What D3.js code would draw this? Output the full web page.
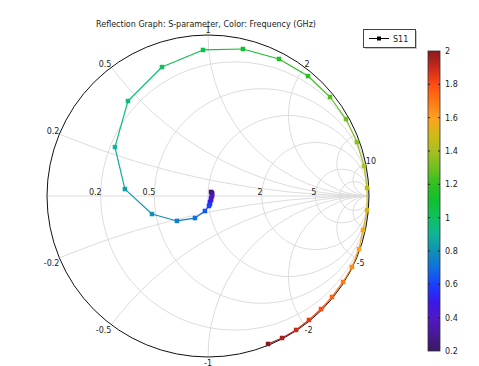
<!DOCTYPE html>
<html>
<head>
<meta charset="utf-8">
<script src="https://cdn.jsdelivr.net/npm/d3@7"></script>
<style>
  html, body { margin: 0; padding: 0; background: #fff; }
  svg { display: block; font-family: "DejaVu Sans", sans-serif; }
  .grid { fill: none; stroke: #dcdcdc; stroke-width: 1; }
  .lbl { font-size: 8px; fill: #222; }
</style>
</head>
<body>
<svg id="chart" width="479" height="366"></svg>
<script>
/* ─── Data ───────────────────────────────────────────────────────────────── */

// Frequency (GHz) of each sample
const freq = [0.2, 0.25, 0.3, 0.35, 0.4, 0.45, 0.5, 0.55, 0.6, 0.65, 0.7, 0.75, 0.8, 0.85,
  0.9, 0.95, 1.0, 1.05, 1.1, 1.15, 1.2, 1.25, 1.3, 1.35, 1.4, 1.45, 1.5, 1.55, 1.6, 1.65,
  1.7, 1.75, 1.8, 1.85, 1.9, 1.95, 2.0];

// S11 reflection coefficient, real and imaginary parts
const s11Re = [0.019, 0.025, 0.025, 0.025, 0.019, 0.019, 0.012, 0.012, 0.006, -0.019, -0.081,
  -0.193, -0.348, -0.516, -0.578, -0.497, -0.286, -0.031, 0.217, 0.441, 0.621, 0.758, 0.857,
  0.925, 0.969, 0.988, 0.988, 0.963, 0.938, 0.894, 0.839, 0.770, 0.702, 0.627, 0.547, 0.460, 0.373];
const s11Im = [0.025, 0.019, 0.012, 0.000, -0.012, -0.025, -0.037, -0.050, -0.062, -0.093, -0.137,
  -0.155, -0.112, 0.043, 0.304, 0.590, 0.801, 0.907, 0.913, 0.851, 0.745, 0.615, 0.478,
  0.335, 0.186, 0.050, -0.087, -0.211, -0.329, -0.441, -0.534, -0.627, -0.702, -0.770, -0.832, -0.882, -0.919];

// Smith chart grid
const resistances = [0.2, 0.5, 1, 2, 5, 10];
const reactances  = [0.2, 0.5, 1, 2, 5, 10];
const resLabels   = [0.2, 0.5, 2, 5];
const reactLabels = [0.2, 0.5, 1, 2, 10, -0.2, -0.5, -1, -2, -5];

// Colour bar
const cbTicks = [0.2, 0.4, 0.6, 0.8, 1, 1.2, 1.4, 1.6, 1.8, 2];
const rainbowStops  = [0.2, 0.3, 0.4, 0.5, 0.6, 0.7, 0.8, 0.9, 1.0, 1.1, 1.2, 1.3, 1.4, 1.5, 1.6, 1.7, 1.8, 1.9, 2.0];
const rainbowColors = ['#3a1862', '#4a1896', '#5018c6', '#3a18e8', '#1840ff', '#1070e0', '#1090b4',
  '#10b496', '#10c060', '#10c030', '#30c020', '#70c020', '#a8c020', '#d4b818', '#ffa020',
  '#ff7814', '#ff4c10', '#c82a1e', '#8a1a1a'];

/* ─── Layout ─────────────────────────────────────────────────────────────── */

const cx = 208, cy = 196, R = 161;
const svg = d3.select('#chart');

const x = d3.scaleLinear().domain([-1, 1]).range([cx - R, cx + R]);
const y = d3.scaleLinear().domain([-1, 1]).range([cy + R, cy - R]);
const k = R; // unit length in px

const color = d3.scaleLinear().domain(rainbowStops).range(rainbowColors).interpolate(d3.interpolateRgb);

svg.append('defs').append('clipPath').attr('id', 'unit')
  .append('circle').attr('cx', x(0)).attr('cy', y(0)).attr('r', k);

/* ─── Grid ───────────────────────────────────────────────────────────────── */

const grid = svg.append('g').attr('clip-path', 'url(#unit)');

grid.append('line').attr('class', 'grid')
  .attr('x1', x(-1)).attr('y1', y(0)).attr('x2', x(1)).attr('y2', y(0));

grid.selectAll('circle.res').data(resistances).join('circle')
  .attr('class', 'grid res')
  .attr('cx', r => x(r / (r + 1))).attr('cy', y(0))
  .attr('r', r => k / (r + 1));

grid.selectAll('circle.xp').data(reactances.flatMap(v => [v, -v])).join('circle')
  .attr('class', 'grid xp')
  .attr('cx', x(1)).attr('cy', v => y(1 / v))
  .attr('r', v => k / Math.abs(v));

svg.append('circle').attr('cx', x(0)).attr('cy', y(0)).attr('r', k)
  .attr('fill', 'none').attr('stroke', '#111').attr('stroke-width', 1);

/* ─── Labels ─────────────────────────────────────────────────────────────── */

svg.selectAll('text.rl').data(resLabels).join('text')
  .attr('class', 'lbl rl')
  .attr('x', r => x((r - 1) / (r + 1)) + 1).attr('y', y(0) - 1.5)
  .attr('text-anchor', 'end')
  .text(r => r);

function edge(v) {
  // point on the unit circle where reactance v meets it
  const d = v * v + 1;
  return [(v * v - 1) / d, 2 * v / d];
}

svg.selectAll('text.xl').data(reactLabels).join('text')
  .attr('class', 'lbl xl')
  .attr('x', v => x(edge(v)[0]))
  .attr('y', v => y(edge(v)[1]) + (v > 0 ? (Math.abs(v) === 1 ? -2 : 0) : (Math.abs(v) === 1 ? 8.5 : 8)))
  .attr('text-anchor', v => Math.abs(v) === 1 ? 'middle' : (Math.abs(v) < 1 ? 'end' : 'start'))
  .text(v => v);

/* ─── Trace ──────────────────────────────────────────────────────────────── */

const pts = freq.map((f, i) => ({ f, re: s11Re[i], im: s11Im[i] }));
const segs = d3.pairs(pts);

svg.append('g').selectAll('line').data(segs).join('line')
  .attr('x1', d => x(d[0].re)).attr('y1', d => y(d[0].im))
  .attr('x2', d => x(d[1].re)).attr('y2', d => y(d[1].im))
  .attr('stroke', d => color((d[0].f + d[1].f) / 2))
  .attr('stroke-width', 1.2);

const ms = 4.5;
svg.append('g').selectAll('rect').data(pts).join('rect')
  .attr('x', d => x(d.re) - ms / 2).attr('y', d => y(d.im) - ms / 2)
  .attr('width', ms).attr('height', ms)
  .attr('fill', d => color(d.f));

/* ─── Title ──────────────────────────────────────────────────────────────── */

svg.append('text').attr('class', 'lbl')
  .attr('x', 206).attr('y', 26.5).attr('text-anchor', 'middle')
  .text('Reflection Graph: S-parameter, Color: Frequency (GHz)');

/* ─── Legend ─────────────────────────────────────────────────────────────── */

const lg = svg.append('g').attr('transform', 'translate(363,29)');
lg.append('rect').attr('x', 2).attr('y', 2).attr('width', 52).attr('height', 18).attr('fill', '#c8c8c8');
lg.append('rect').attr('x', 0.5).attr('y', 0.5).attr('width', 52).attr('height', 18)
  .attr('fill', '#fff').attr('stroke', '#444');
lg.append('line').attr('x1', 6).attr('x2', 26).attr('y1', 9.5).attr('y2', 9.5).attr('stroke', '#000');
lg.append('rect').attr('x', 14).attr('y', 7.5).attr('width', 4).attr('height', 4).attr('fill', '#000');
lg.append('text').attr('class', 'lbl').attr('x', 30).attr('y', 12.5).text('S11');

/* ─── Colour bar ─────────────────────────────────────────────────────────── */

const cbX = 428, cbW = 12, cbTop = 51, cbBot = 351;
const cbY = d3.scaleLinear().domain([0.2, 2]).range([cbBot, cbTop]);

const grad = svg.select('defs').append('linearGradient').attr('id', 'cbgrad')
  .attr('x1', 0).attr('y1', 1).attr('x2', 0).attr('y2', 0);
grad.selectAll('stop').data(rainbowStops).join('stop')
  .attr('offset', d => (d - 0.2) / 1.8)
  .attr('stop-color', d => color(d));

svg.append('rect').attr('x', cbX).attr('y', cbTop).attr('width', cbW).attr('height', cbBot - cbTop)
  .attr('fill', 'url(#cbgrad)').attr('stroke', '#333').attr('stroke-width', 0.8);

const cbAxis = svg.append('g');
cbAxis.selectAll('line.l').data(cbTicks.slice(1, -1)).join('line')
  .attr('x1', cbX).attr('x2', cbX + 2).attr('y1', d => cbY(d)).attr('y2', d => cbY(d))
  .attr('stroke', '#222');
cbAxis.selectAll('line.r').data(cbTicks.slice(1, -1)).join('line')
  .attr('x1', cbX + cbW - 2).attr('x2', cbX + cbW).attr('y1', d => cbY(d)).attr('y2', d => cbY(d))
  .attr('stroke', '#222');
cbAxis.selectAll('text').data(cbTicks).join('text')
  .attr('class', 'lbl')
  .attr('x', cbX + cbW + 5).attr('y', d => cbY(d) + 3)
  .text(d => d);
</script>
</body>
</html>
